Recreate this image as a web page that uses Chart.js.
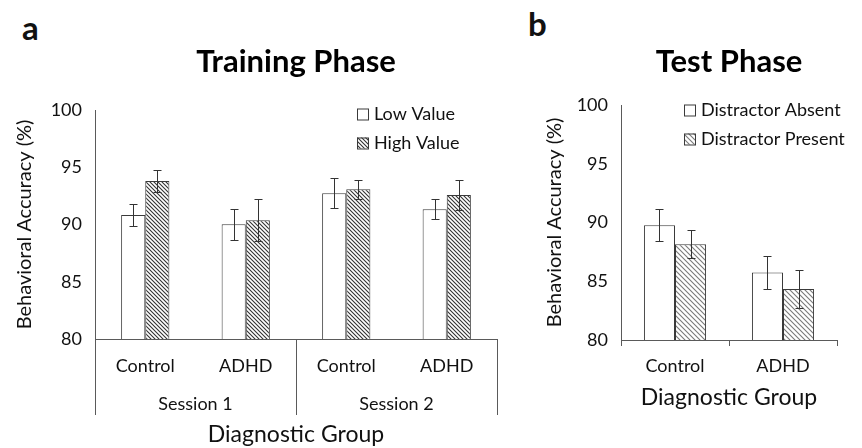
<!DOCTYPE html>
<html>
<head>
<meta charset="utf-8">
<script src="https://cdn.jsdelivr.net/npm/chart.js@4"></script>
<style>
  body { margin: 0; background: #fff; width: 862px; height: 448px; position: relative; overflow: hidden; font-family: Lato, sans-serif; }
  canvas { position: absolute; top: 0; }
  #training { left: 0; }
  #test { left: 530px; }
  .panel { position: absolute; font-weight: bold; font-size: 33px; color: #111; line-height: 1; }
</style>
</head>
<body>
<div class="panel" style="left:22px;top:11px">a</div>
<div class="panel" style="left:528px;top:7px">b</div>
<canvas id="training" width="530" height="448"></canvas>
<canvas id="test" width="332" height="448"></canvas>
<script>
// training phase
const trainGroups = ['Control', 'ADHD', 'Control', 'ADHD']
const trainSessions = ['Session 1', 'Session 2']
const lowValue = [90.83, 90.02, 92.72, 91.33]
const lowValueErr = [1.0, 1.35, 1.3, 0.88]
const highValue = [93.8, 90.37, 93.07, 92.58]
const highValueErr = [0.95, 1.85, 0.8, 1.27]

// test phase
const testGroups = ['Control', 'ADHD']
const distractorAbsent = [89.77, 85.75]
const distractorAbsentErr = [1.35, 1.4]
const distractorPresent = [88.15, 84.33]
const distractorPresentErr = [1.2, 1.6]

const yTicks = [80, 85, 90, 95, 100]

const textColor = '#111'
const lineColor = '#5a5a5a'
const barEdge = '#3a3a3a'

function hatch (ctx, color, size, width) {
  const c = document.createElement('canvas')
  c.width = size
  c.height = size
  const g = c.getContext('2d')
  g.fillStyle = '#fff'
  g.fillRect(0, 0, size, size)
  g.strokeStyle = color
  g.lineWidth = width
  g.beginPath()
  g.moveTo(-1, -1); g.lineTo(size + 1, size + 1)
  g.moveTo(-1, size - 1); g.lineTo(1, size + 1)
  g.moveTo(size - 1, -1); g.lineTo(size + 1, 1)
  g.stroke()
  return ctx.createPattern(c, 'repeat')
}

const errorBars = {
  id: 'errorBars',
  afterDatasetsDraw (chart) {
    const { ctx } = chart
    const y = chart.scales.y
    ctx.save()
    ctx.strokeStyle = '#333'
    ctx.lineWidth = 1
    chart.data.datasets.forEach((ds, i) => {
      const meta = chart.getDatasetMeta(i)
      meta.data.forEach((bar, j) => {
        const v = ds.data[j]
        const e = ds.errors[j]
        const x = Math.round(bar.x) + 0.5
        const top = Math.round(y.getPixelForValue(v + e)) + 0.5
        const bot = Math.round(y.getPixelForValue(v - e)) + 0.5
        ctx.beginPath()
        ctx.moveTo(x, top); ctx.lineTo(x, bot)
        ctx.moveTo(x - 4, top); ctx.lineTo(x + 4, top)
        ctx.moveTo(x - 4, bot); ctx.lineTo(x + 4, bot)
        ctx.stroke()
      })
    })
    ctx.restore()
  }
}

const boxLegend = {
  id: 'boxLegend',
  afterDraw (chart, args, opts) {
    const { ctx, chartArea } = chart
    ctx.save()
    ctx.font = '18px Lato'
    ctx.textBaseline = 'middle'
    chart.data.datasets.forEach((ds, i) => {
      const bx = chartArea.right - opts.right
      const cy = chartArea.top + opts.top + i * 29
      ctx.fillStyle = ds.backgroundColor
      ctx.fillRect(bx, cy - 5.5, 11, 11)
      ctx.strokeStyle = barEdge
      ctx.lineWidth = 1
      ctx.strokeRect(bx + 0.5, cy - 5, 11, 11)
      ctx.fillStyle = textColor
      ctx.fillText(ds.label, bx + 17, cy)
    })
    ctx.restore()
  }
}

// vertical dividers between sessions, below the x axis
const sessionDividers = {
  id: 'sessionDividers',
  afterDraw (chart) {
    const { ctx, chartArea } = chart
    const s = chart.scales.x2
    const half = (s.getPixelForValue(1) - s.getPixelForValue(0)) / 2
    ctx.save()
    ctx.strokeStyle = lineColor
    ctx.lineWidth = 1
    ctx.beginPath()
    for (let i = 0; i <= trainSessions.length; i++) {
      const x = Math.round(s.getPixelForValue(0) - half + i * 2 * half) + 0.5
      ctx.moveTo(x, chartArea.bottom)
      ctx.lineTo(x, 415)
    }
    ctx.stroke()
    ctx.restore()
  }
}

function yAxis (width) {
  return {
    min: 80,
    max: 100,
    afterBuildTicks: (scale) => { scale.ticks = yTicks.map((v) => ({ value: v })) },
    afterFit: (scale) => { scale.width = width },
    grid: { display: false, drawTicks: false },
    border: { display: true, color: lineColor },
    ticks: { color: textColor, font: { family: 'Lato', size: 18 }, padding: 13 },
    title: {
      display: true,
      text: 'Behavioral Accuracy (%)',
      color: textColor,
      font: { family: 'Lato', size: 20 },
      padding: { top: 13, bottom: 0 }
    }
  }
}

function titleOpts (text, bottomPad) {
  return {
    display: true,
    text,
    fullSize: false,
    color: '#000',
    font: { family: 'Lato', size: 31, weight: 'bold' },
    padding: { top: 43, bottom: bottomPad }
  }
}

const ctxA = document.getElementById('training').getContext('2d')
const ctxB = document.getElementById('test').getContext('2d')

new Chart(ctxA, {
  type: 'bar',
  data: {
    labels: trainGroups,
    datasets: [
      { label: 'Low Value', data: lowValue, errors: lowValueErr, backgroundColor: '#fff', borderColor: barEdge, borderWidth: 1, borderSkipped: false },
      { label: 'High Value', data: highValue, errors: highValueErr, backgroundColor: hatch(ctxA, '#333', 4, 1.1), borderColor: barEdge, borderWidth: 1, borderSkipped: false }
    ]
  },
  options: {
    animation: false,
    responsive: false,
    layout: { padding: { left: 0, right: 33, top: 0, bottom: 0 } },
    datasets: { bar: { categoryPercentage: 0.48, barPercentage: 1 } },
    scales: {
      x: {
        weight: 0,
        afterFit: (scale) => { scale.height = 48 },
        grid: { display: false, drawTicks: false },
        border: { display: true, color: lineColor },
        ticks: { color: textColor, font: { family: 'Lato', size: 18 }, padding: 16 }
      },
      x2: {
        type: 'category',
        position: 'bottom',
        labels: trainSessions,
        offset: true,
        weight: 1,
        afterFit: (scale) => { scale.height = 61 },
        grid: { display: false, drawTicks: false },
        border: { display: false },
        ticks: { color: textColor, font: { family: 'Lato', size: 18 }, padding: 6 },
        title: {
          display: true,
          text: 'Diagnostic Group',
          color: textColor,
          font: { family: 'Lato', size: 23 },
          padding: { top: 0, bottom: 0 }
        }
      },
      y: yAxis(95)
    },
    plugins: {
      legend: { display: false },
      tooltip: { enabled: false },
      title: titleOpts('Training Phase', 29.8),
      boxLegend: { right: 140, top: 4 }
    }
  },
  plugins: [errorBars, boxLegend, sessionDividers]
})

new Chart(ctxB, {
  type: 'bar',
  data: {
    labels: testGroups,
    datasets: [
      { label: 'Distractor Absent', data: distractorAbsent, errors: distractorAbsentErr, backgroundColor: '#fff', borderColor: barEdge, borderWidth: 1, borderSkipped: false },
      { label: 'Distractor Present', data: distractorPresent, errors: distractorPresentErr, backgroundColor: hatch(ctxB, '#7a7a7a', 5, 1.1), borderColor: barEdge, borderWidth: 1, borderSkipped: false }
    ]
  },
  options: {
    animation: false,
    responsive: false,
    layout: { padding: { left: 0, right: 25, top: 0, bottom: 0 } },
    datasets: { bar: { categoryPercentage: 0.575, barPercentage: 1 } },
    scales: {
      x: {
        afterFit: (scale) => { scale.height = 108 },
        grid: { display: true, offset: true, drawOnChartArea: false, drawTicks: true, tickLength: 6, color: lineColor },
        border: { display: true, color: lineColor },
        ticks: { color: textColor, font: { family: 'Lato', size: 18 }, padding: 9 },
        title: {
          display: true,
          text: 'Diagnostic Group',
          color: textColor,
          font: { family: 'Lato', size: 23 },
          padding: { top: 0, bottom: 37 }
        }
      },
      y: yAxis(91)
    },
    plugins: {
      legend: { display: false },
      tooltip: { enabled: false },
      title: titleOpts('Test Phase', 24.8),
      boxLegend: { right: 153, top: 5 }
    }
  },
  plugins: [errorBars, boxLegend]
})
</script>
</body>
</html>
